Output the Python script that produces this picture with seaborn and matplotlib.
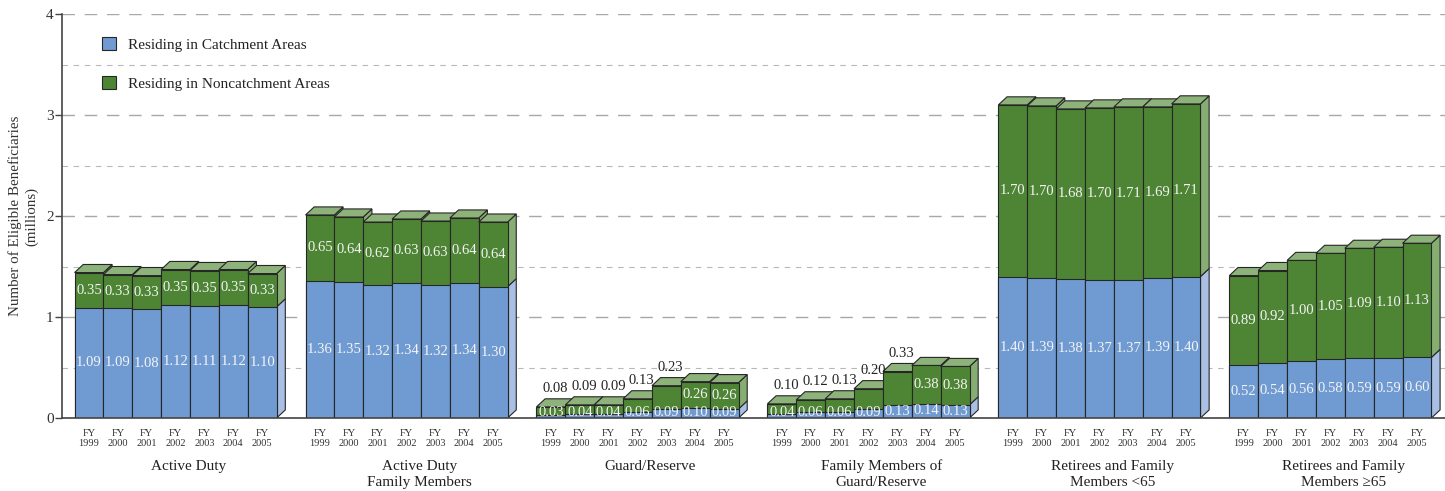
import numpy as np
import pandas as pd
import matplotlib
matplotlib.use("Agg")
import matplotlib.pyplot as plt
import seaborn as sns
from matplotlib.patches import Polygon, Patch
from matplotlib.transforms import blended_transform_factory

# ---- data (millions of eligible beneficiaries) ----
years = ["1999", "2000", "2001", "2002", "2003", "2004", "2005"]
groups = [
    "Active Duty",
    "Active Duty\nFamily Members",
    "Guard/Reserve",
    "Family Members of\nGuard/Reserve",
    "Retirees and Family\nMembers <65",
    "Retirees and Family\nMembers \u226565",
]
catchment = [
    [1.09, 1.09, 1.08, 1.12, 1.11, 1.12, 1.10],
    [1.36, 1.35, 1.32, 1.34, 1.32, 1.34, 1.30],
    [0.03, 0.04, 0.04, 0.06, 0.09, 0.10, 0.09],
    [0.04, 0.06, 0.06, 0.09, 0.13, 0.14, 0.13],
    [1.40, 1.39, 1.38, 1.37, 1.37, 1.39, 1.40],
    [0.52, 0.54, 0.56, 0.58, 0.59, 0.59, 0.60],
]
noncatchment = [
    [0.35, 0.33, 0.33, 0.35, 0.35, 0.35, 0.33],
    [0.65, 0.64, 0.62, 0.63, 0.63, 0.64, 0.64],
    [0.08, 0.09, 0.09, 0.13, 0.23, 0.26, 0.26],
    [0.10, 0.12, 0.13, 0.20, 0.33, 0.38, 0.38],
    [1.70, 1.70, 1.68, 1.70, 1.71, 1.69, 1.71],
    [0.89, 0.92, 1.00, 1.05, 1.09, 1.10, 1.13],
]

# ---- style ----
BLUE = "#709bd2"
GREEN = "#4d8535"
TOP_GREEN = "#8db27a"
SIDE_GREEN = "#86ad72"
SIDE_BLUE = "#a9c0e4"
EDGE = "#262626"
TEXT = "#333333"
DX, DY = 0.30, 0.08          # oblique depth offset of the pseudo-3D bars
GROUP_STEP = 8               # 7 bars + one empty slot between groups

sns.set_theme(style="white")
plt.rcParams["font.family"] = ["Liberation Serif", "DejaVu Serif"]
plt.rcParams["lines.scale_dashes"] = False

rows = []
for g, name in enumerate(groups):
    for i, yr in enumerate(years):
        c = catchment[g][i]
        n = noncatchment[g][i]
        rows.append({"group": g, "idx": i, "pos": g * GROUP_STEP + i,
                     "catch": c, "non": n, "total": c + n})
df = pd.DataFrame(rows)

fig = plt.figure(figsize=(14.45, 4.91), dpi=100)
ax = fig.add_axes([62 / 1445, 73 / 491, 1383 / 1445, 404 / 491])

# front faces: full stack in green, catchment part over it in blue
sns.barplot(data=df, x="pos", y="total", native_scale=True, width=1.0,
            color=GREEN, saturation=1, edgecolor=EDGE, linewidth=0.8,
            errorbar=None, ax=ax)
sns.barplot(data=df, x="pos", y="catch", native_scale=True, width=1.0,
            color=BLUE, saturation=1, edgecolor=EDGE, linewidth=0.8,
            errorbar=None, ax=ax)

n_bars = len(df)
green_bars = ax.patches[:n_bars]
blue_bars = ax.patches[n_bars:2 * n_bars]

for k, row in df.iterrows():
    base = 10 + 4 * k
    x0 = row["pos"] - 0.5
    x1 = row["pos"] + 0.5
    c, t = row["catch"], row["total"]
    green_bars[k].set_zorder(base + 2)
    blue_bars[k].set_zorder(base + 3)
    # right side face (blue lower part, green upper part)
    side_b = Polygon([(x1, 0), (x1 + DX, DY), (x1 + DX, c + DY), (x1, c)],
                     closed=True, facecolor=SIDE_BLUE, edgecolor=EDGE,
                     linewidth=0.8, zorder=base)
    side_g = Polygon([(x1, c), (x1 + DX, c + DY), (x1 + DX, t + DY), (x1, t)],
                     closed=True, facecolor=SIDE_GREEN, edgecolor=EDGE,
                     linewidth=0.8, zorder=base)
    top = Polygon([(x0, t), (x1, t), (x1 + DX, t + DY), (x0 + DX, t + DY)],
                  closed=True, facecolor=TOP_GREEN, edgecolor=EDGE,
                  linewidth=0.8, zorder=base + 1)
    for p in (side_b, side_g, top):
        ax.add_patch(p)

    # value labels
    ax.text(row["pos"], max(c / 2, 0.05), f"{c:.2f}", ha="center", va="center",
            fontsize=10.5, color="#f4f4f4", zorder=1000)
    small = row["group"] in (2, 3) and row["idx"] < 5
    if small:
        ax.text(row["pos"] + DX / 2, t + DY + 0.1, f"{row['non']:.2f}",
                ha="center", va="center", fontsize=10.5, color="#222222",
                zorder=1000)
    else:
        ax.text(row["pos"], c + row["non"] / 2, f"{row['non']:.2f}",
                ha="center", va="center", fontsize=10.5, color="#f4f4f4",
                zorder=1000)

# axes, ticks, grid
ax.set_xlim(-0.935, 46.97)
ax.set_ylim(0, 4)
ax.set_yticks([0, 1, 2, 3, 4])
ax.set_yticklabels(["0", "1", "2", "3", "4"])
ax.set_yticks([0.5, 1.5, 2.5, 3.5], minor=True)
ax.set_xticks(df["pos"].tolist())
ax.set_xticklabels([f"FY\n{y}" for y in years] * len(groups))
for t in ax.get_xticklabels():
    t.set_linespacing(1.1)
ax.tick_params(axis="x", length=0, pad=8, labelsize=7.5, labelcolor=TEXT)
ax.tick_params(axis="y", which="major", left=True, length=5, width=1,
               color="#444444", labelsize=11, labelcolor=TEXT, pad=1)
ax.tick_params(axis="y", which="minor", left=False, length=0)
ax.set_axisbelow(True)
ax.grid(False)
ax.yaxis.grid(True, which="major", color="#a8a8a8", linewidth=1.0,
              linestyle=(0, (9, 7)))
ax.yaxis.grid(True, which="minor", color="#b8b8b8", linewidth=0.8,
              linestyle=(0, (4, 4)))
ax.set_xlabel("")
for s in ("top", "right"):
    ax.spines[s].set_visible(False)
for s in ("left", "bottom"):
    ax.spines[s].set_color("#444444")
    ax.spines[s].set_linewidth(1.2)
    ax.spines[s].set_zorder(2000)

ax.set_ylabel("Number of Eligible Beneficiaries\n(millions)", fontsize=10.8,
              color=TEXT, linespacing=1.3)
ax.yaxis.set_label_coords(-0.017, 0.5)

# group captions under each block of bars
trans = blended_transform_factory(ax.transData, ax.transAxes)
for g, name in enumerate(groups):
    ax.text(g * GROUP_STEP + 3 + 0.45, -0.103, name, transform=trans,
            ha="center", va="top", fontsize=11, color="#222222",
            linespacing=1.3)

handles = [Patch(facecolor=BLUE, edgecolor=EDGE, linewidth=0.8,
                 label="Residing in Catchment Areas"),
           Patch(facecolor=GREEN, edgecolor=EDGE, linewidth=0.8,
                 label="Residing in Noncatchment Areas")]
leg = ax.legend(handles=handles, loc="upper left",
                bbox_to_anchor=(102 / 1445, 1 - 37 / 491),
                bbox_transform=fig.transFigure, frameon=False,
                handlelength=0.9, handleheight=0.9, handletextpad=0.8,
                labelspacing=1.6, borderpad=0, borderaxespad=0, fontsize=11)
for t in leg.get_texts():
    t.set_color("#222222")

fig.savefig("out.png", dpi=100)
